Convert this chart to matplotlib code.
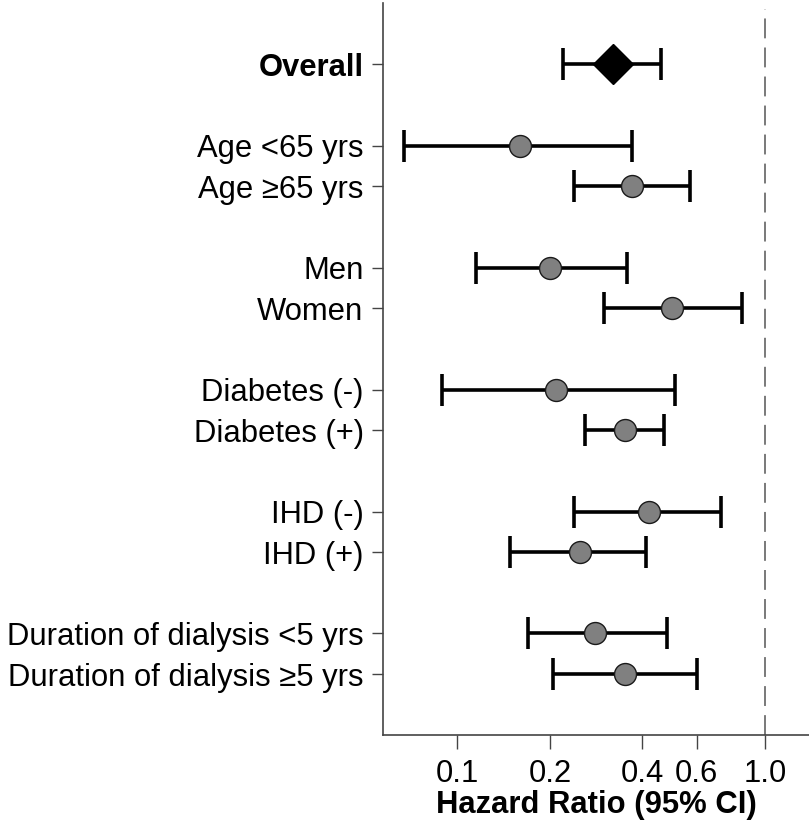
import matplotlib
matplotlib.use("Agg")
import matplotlib.pyplot as plt
import numpy as np

plt.rcParams['font.family'] = ['Liberation Sans', 'DejaVu Sans']

# Subgroup hazard ratios with 95% confidence intervals
labels = ["Overall",
          "Age <65 yrs", "Age \u226565 yrs",
          "Men", "Women",
          "Diabetes (-)", "Diabetes (+)",
          "IHD (-)", "IHD (+)",
          "Duration of dialysis <5 yrs", "Duration of dialysis \u22655 yrs"]
rows = [0, 2, 3, 5, 6, 8, 9, 11, 12, 14, 15]
hr = [0.32, 0.16, 0.37, 0.20, 0.50, 0.21, 0.35, 0.42, 0.25, 0.28, 0.35]
lower = [0.22, 0.067, 0.24, 0.115, 0.30, 0.089, 0.26, 0.24, 0.148, 0.17, 0.205]
upper = [0.46, 0.37, 0.57, 0.355, 0.84, 0.51, 0.47, 0.72, 0.41, 0.48, 0.60]

xticks = [0.1, 0.2, 0.4, 0.6, 1.0]
xticklabels = ["0.1", "0.2", "0.4", "0.6", "1.0"]

FS = 22.3

fig = plt.figure(figsize=(8.09, 8.33), dpi=100)
ax = fig.add_axes([0.4734, 0.1176, 0.5266, 0.8782])
ax.set_xscale('log')

# Reference line at no effect
ax.axvline(1.0, ymax=0.992, color='#555555', lw=1.1, dashes=(13, 6), zorder=1)

hr_a = np.array(hr)
err = np.vstack([hr_a - np.array(lower), np.array(upper) - hr_a])

for i, (r, h) in enumerate(zip(rows, hr)):
    ax.errorbar(h, r, xerr=err[:, i:i + 1], fmt='none', ecolor='black',
                elinewidth=2.6, capsize=11.5, capthick=2.6, zorder=2)
    if i == 0:
        ax.plot(h, r, marker='D', ms=20.5, mfc='black', mec='black', zorder=3)
    else:
        ax.plot(h, r, marker='o', ms=15.8, mfc='#808080', mec='#1a1a1a',
                mew=1.0, zorder=3)

ax.set_xlim(0.0574, 1.39)
ax.set_ylim(16.5, -1.5)

ax.set_yticks(rows)
ax.set_yticklabels(labels, fontsize=FS)
ax.get_yticklabels()[0].set_fontweight('bold')
ax.set_xticks(xticks)
ax.set_xticklabels(xticklabels, fontsize=FS)
ax.xaxis.set_minor_locator(matplotlib.ticker.NullLocator())

ax.tick_params(axis='y', length=8, width=1, color='#444444', pad=6)
ax.tick_params(axis='x', length=10, width=1, color='#444444', pad=7)

for s in ['top', 'right']:
    ax.spines[s].set_visible(False)
for s in ['left', 'bottom']:
    ax.spines[s].set_color('#444444')
    ax.spines[s].set_linewidth(1.2)

ax.set_xlabel("Hazard Ratio (95% CI)", fontsize=FS, fontweight='bold', labelpad=1)

fig.savefig("out.png", dpi=100)
